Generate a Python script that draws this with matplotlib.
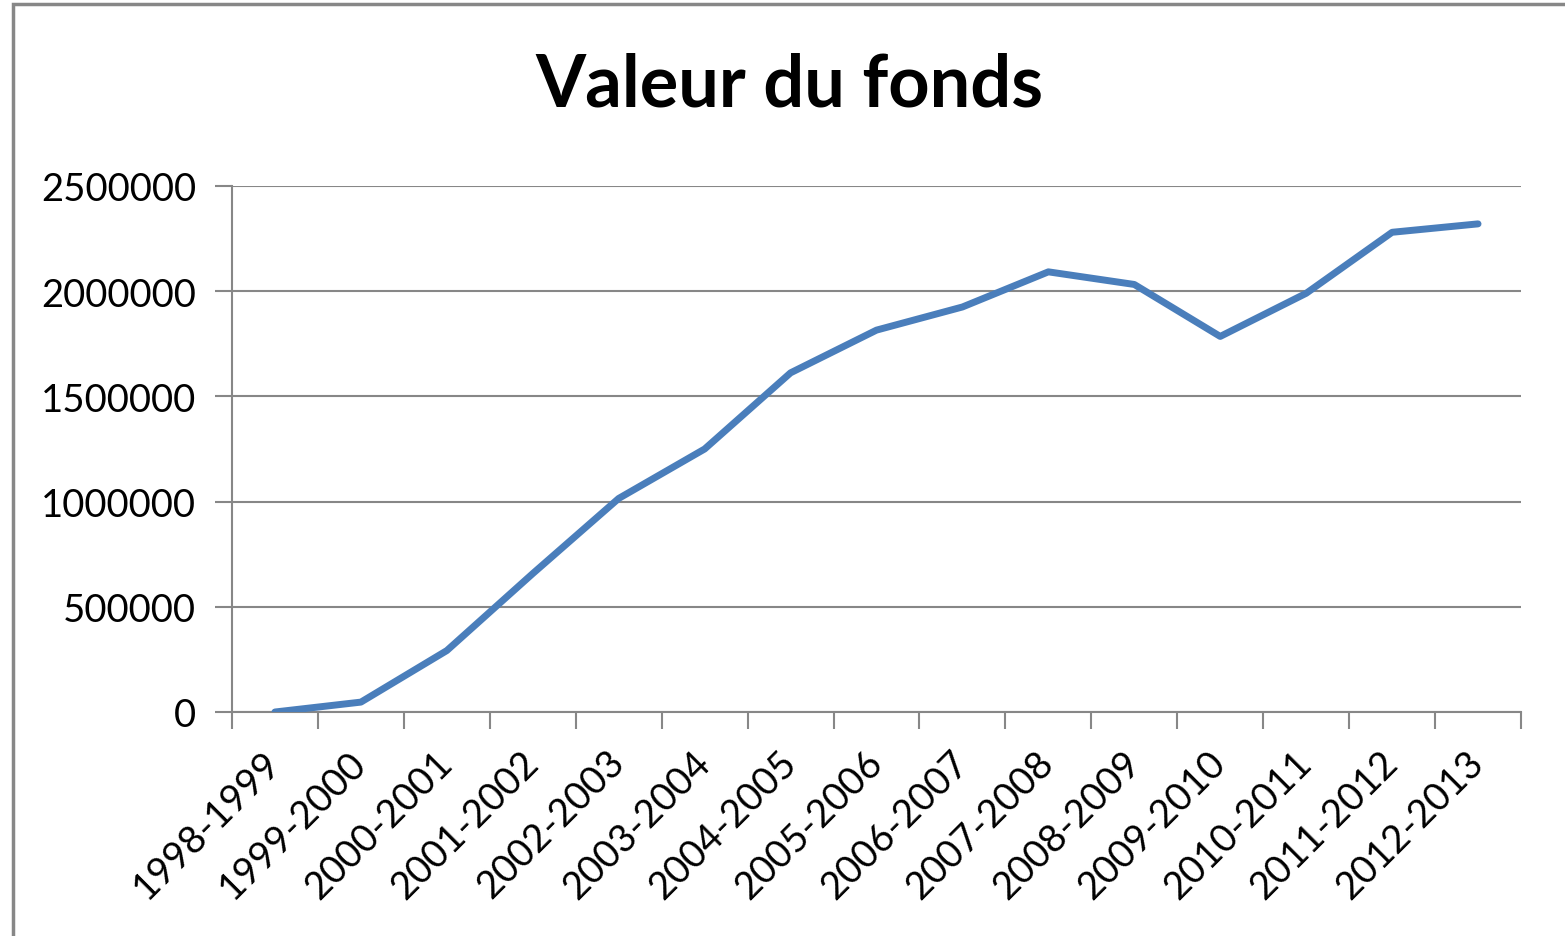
import matplotlib.pyplot as plt
from matplotlib.patches import Rectangle
from matplotlib.ticker import FixedLocator, NullFormatter

years = ["1998-1999", "1999-2000", "2000-2001", "2001-2002", "2002-2003",
         "2003-2004", "2004-2005", "2005-2006", "2006-2007", "2007-2008",
         "2008-2009", "2009-2010", "2010-2011", "2011-2012", "2012-2013"]
valeur = [0, 47000, 292000, 658000, 1015000, 1250000, 1612000, 1815000,
          1925000, 2092000, 2032000, 1785000, 1990000, 2280000, 2320000]

plt.rcParams['font.family'] = ['Lato', 'DejaVu Sans']

fig = plt.figure(figsize=(15.65, 9.37), dpi=100)
fig.patch.set_facecolor("white")

# chart frame (only left/top edges visible in the original crop)
fig.patches.append(Rectangle((13 / 1565, -0.1), 1.2, 1 - 5 / 937 + 0.1,
                             transform=fig.transFigure, fill=False,
                             edgecolor="#878787", linewidth=2.5))

ax = fig.add_axes([232 / 1565, 1 - 713 / 937, (1521 - 232) / 1565, (713 - 187) / 937])

x = list(range(len(years)))
ax.plot(x, valeur, color="#4A7EBB", linewidth=5, solid_capstyle="round",
        solid_joinstyle="round", zorder=3)

ax.set_xlim(-0.5, len(years) - 0.5)
ax.set_ylim(0, 2500000)
ax.set_yticks([0, 500000, 1000000, 1500000, 2000000, 2500000])
ax.set_yticklabels(["0", "500000", "1000000", "1500000", "2000000", "2500000"])

# category boundaries as major ticks, labels on minor ticks at centers
ax.xaxis.set_major_locator(FixedLocator([i - 0.5 for i in range(len(years) + 1)]))
ax.xaxis.set_major_formatter(NullFormatter())
ax.xaxis.set_minor_locator(FixedLocator(x))
ax.set_xticklabels(years, minor=True, rotation=45, ha="right", va="center",
                   rotation_mode="anchor")

ax.tick_params(axis="x", which="major", length=12, width=1.5, color="#878787")
ax.tick_params(axis="x", which="minor", length=0, pad=32, labelsize=27.5)
ax.tick_params(axis="y", length=12, width=1.5, color="#878787", labelsize=27.5, pad=14)

ax.grid(axis="y", color="#878787", linewidth=1.5)
ax.set_axisbelow(True)
for s in ["top", "right"]:
    ax.spines[s].set_visible(False)
for s in ["left", "bottom"]:
    ax.spines[s].set_color("#878787")
    ax.spines[s].set_linewidth(1.5)

fig.text(789 / 1565, 1 - 86 / 937, "Valeur du fonds", ha="center", va="center",
         fontsize=52, fontweight="bold")

fig.savefig("out.png", dpi=100)
